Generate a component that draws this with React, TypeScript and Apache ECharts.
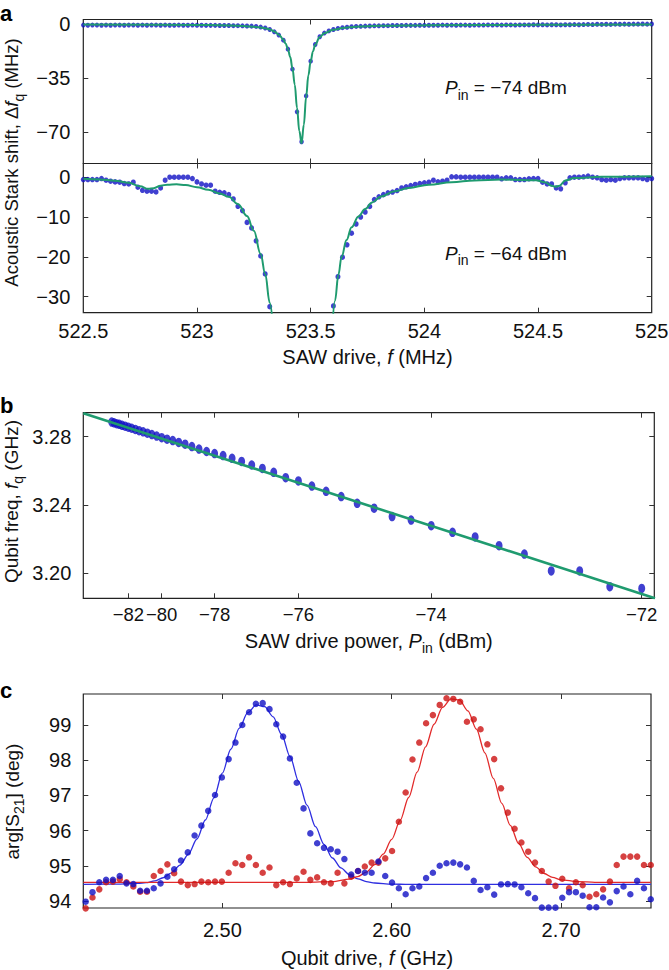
import React, { useEffect, useRef } from 'react';
import * as echarts from 'echarts';

const FONT = '"Liberation Sans", Arial, Helvetica, sans-serif';
const INK = '#111';

// ---------------- Panel a ----------------
const aFreqStart = 522.5;
const aFreqStep = 0.02;
const aXTicks = [522.5, 523, 523.5, 524, 524.5, 525];
const aTopYTicks = [0, -35, -70];
const aBottomYTicks = [0, -10, -20, -30];

// P_in = -74 dBm, Acoustic Stark shift (MHz), one value per sweep point
const aTopShift = [
  -0.4, -0.5, -0.4, -0.4, -0.5, -0.4, -0.5, -0.4, -0.4, -0.5,
  -0.4, -0.4, -0.5, -0.4, -0.5, -0.4, -0.4, -0.5, -0.4, -0.5,
  -0.5, -0.4, -0.5, -0.5, -0.4, -0.5, -0.5, -0.6, -0.6, -0.6,
  -0.7, -0.7, -0.7, -0.8, -0.8, -0.9, -1.0, -1.1, -1.3, -1.7,
  -2.3, -3.3, -4.8, -6.9, -10.2, -16.0, -29.0, -56.6, -76.0, -46.3,
  -23.8, -13.0, -8.0, -5.6, -4.2, -3.3, -2.6, -2.1, -1.8, -1.5,
  -1.3, -1.2, -1.1, -1.0, -0.9, -0.9, -0.8, -0.8, -0.7, -0.7,
  -0.7, -0.6, -0.6, -0.6, -0.5, -0.6, -0.5, -0.5, -0.5, -0.4,
  -0.5, -0.4, -0.5, -0.4, -0.4, -0.5, -0.4, -0.4, -0.4, -0.3,
  -0.4, -0.3, -0.4, -0.3, -0.3, -0.4, -0.3, -0.3, -0.3, -0.2,
  -0.3, -0.2, -0.3, -0.2, -0.2, -0.3, -0.2, -0.2, -0.1, -0.2,
  -0.1, 0.0, -0.1, 0.1, 0.0, 0.1, 0.0, 0.2, 0.1, 0.2,
  0.1, 0.2, 0.2, 0.3, 0.2, 0.3,
];

// P_in = -64 dBm (null: below the visible range)
const aBottomShift = [
  -0.68, -0.68, -0.68, -0.68, -0.43, -0.85, -1.1, -1.26, -1.35, -1.68,
  -1.77, -1.35, -2.6, -3.36, -3.6, -3.6, -3.77, -2.77, -0.85, -0.09,
  -0.09, -0.09, -0.09, -0.09, -0.43, -1.26, -1.77, -2.1, -2.1, -3.6,
  -3.86, -4.0, -4.45, -5.53, -7.37, -8.45, -11.4, -12.8, -16.0, -19.8,
  -24.3, -32.5, null, null, null, null, null, null, null, null,
  null, null, null, null, null, -32.3, -25.0, -20.1, -17.0, -14.1,
  -11.8, -10.05, -8.8, -7.4, -5.7, -5.0, -4.45, -4.0, -3.8, -3.44,
  -2.77, -2.5, -2.2, -1.9, -1.7, -1.5, -1.35, -0.85, -1.26, -1.1,
  -0.85, 0, 0, -0.08, -0.08, -0.08, -0.08, -0.08, -0.08, -0.08,
  -0.08, -0.08, -0.5, -0.25, -0.25, -0.68, -0.68, -0.68, -0.5, -0.43,
  -0.43, -1.35, -1.77, -1.77, -2.77, -3.0, -1.5, -0.25, -0.08, -0.08,
  0, 0.2, -0.08, -0.25, -0.68, -0.85, -0.68, -0.85, -0.43, -0.25,
  -0.25, -0.25, -0.25, -0.43, -0.68, -0.43,
];

// fit curves
const aTopFitFreq = [522.5, 523.0, 523.1, 523.2, 523.26, 523.3, 523.32, 523.34, 523.36, 523.38, 523.39, 523.4, 523.41, 523.42, 523.43, 523.44, 523.45, 523.46, 523.47, 523.48, 523.49, 523.5, 523.51, 523.52, 523.54, 523.56, 523.6, 523.65, 523.7, 523.8, 524.0, 524.5, 525.0];
const aTopFitShift = [-0.1, -0.3, -0.5, -1.0, -1.6, -2.4, -3.2, -4.5, -6.6, -9.8, -12.4, -16, -21, -28.5, -39, -54, -69, -77, -65, -47, -33, -24, -17.5, -13.2, -8.2, -5.7, -3.4, -2.1, -1.5, -0.9, -0.5, -0.25, -0.1];

const aBotFitLeftFreq = [522.5, 522.57, 522.64, 522.7, 522.75, 522.785, 522.81, 522.84, 522.87, 522.91, 522.95, 523.0, 523.05, 523.1, 523.14, 523.18, 523.22, 523.25, 523.28, 523.3, 523.32, 523.335];
const aBotFitLeftShift = [-0.5, -0.65, -0.95, -1.5, -2.35, -3.0, -2.85, -2.2, -1.95, -1.85, -2.05, -2.6, -3.25, -4.15, -5.0, -6.8, -9.8, -13.5, -19.3, -24.3, -31.5, -38];
const aBotFitRightFreq = [523.595, 523.607, 523.622, 523.636, 523.658, 523.68, 523.71, 523.74, 523.77, 523.81, 523.87, 523.93, 524.02, 524.12, 524.22, 524.34, 524.49, 524.53, 524.56, 524.575, 524.595, 524.62, 524.66, 524.78, 525.0];
const aBotFitRightShift = [-38, -31, -24.5, -20, -15.8, -12.6, -9.9, -8.05, -6.4, -4.9, -3.6, -2.8, -1.95, -1.35, -0.9, -0.68, -0.85, -1.35, -2.2, -2.5, -2.2, -0.9, -0.3, 0.0, 0.15];

// ---------------- Panel b ----------------
const bPowerDbm = [
  -83.5, -83.25, -83.0, -82.75, -82.5, -82.25, -82.0, -81.75, -81.5, -81.25,
  -81.0, -80.75, -80.5, -80.25, -80.0, -79.75, -79.5, -79.25, -79.0, -78.75,
  -78.5, -78.25, -78.0, -77.75, -77.5, -77.25, -77.0, -76.75, -76.5, -76.25,
  -76.0, -75.75, -75.5, -75.25, -75.0, -74.75, -74.5, -74.25, -74.0, -73.75,
  -73.5, -73.25, -73.0, -72.75, -72.5, -72.25, -72.0,
];
const bQubitGHz = [
  3.2885, 3.2881, 3.2876, 3.2872, 3.2866, 3.2861, 3.2855, 3.2849, 3.2842, 3.2835,
  3.2828, 3.2820, 3.2812, 3.2803, 3.2794, 3.2785, 3.2777, 3.2766, 3.2756, 3.2742,
  3.2727, 3.2713, 3.2701, 3.2689, 3.2673, 3.2655, 3.2634, 3.2614, 3.2591, 3.2560,
  3.2541, 3.2511, 3.2480, 3.2449, 3.2410, 3.2381, 3.2332, 3.2312, 3.2279, 3.2240,
  3.2213, 3.2162, 3.2113, 3.2014, 3.2014, 3.1922, 3.1912,
];
const bFitDbm = [-88.77, -71.9];
const bFitGHz = [3.2937, 3.1854];
const bXTicksDbm = [-82, -80, -78, -76, -74, -72];
const bYTicks = [3.2, 3.24, 3.28];

// ---------------- Panel c ----------------
const cFreqStart = 2.4193;
const cFreqStep = 0.00402;
const cXTicks = [2.5, 2.6, 2.7];
const cYTicks = [94, 95, 96, 97, 98, 99];
const cBlueDeg = [
  93.98, 94.25, 94.53, 94.6, 94.6, 94.71, 94.5, 94.48, 94.29, 94.29,
  94.36, 94.5, 94.69, 94.9, 95.15, 95.38, 95.86, 96.14, 96.56, 97.01,
  97.51, 98.03, 98.5, 99.0, 99.36, 99.6, 99.62, 99.45, 99.02, 98.67,
  98.05, 97.36, 96.63, 95.92, 95.64, 95.51, 95.47, 95.4, 95.19, 94.75,
  94.85, 94.8, 94.8, 95.12, 94.71, 94.52, 94.36, 94.19, 94.36, 94.41,
  94.65, 94.8, 95.0, 95.07, 95.09, 95.04, 94.95, 94.57, 94.31, 94.39,
  94.18, 94.47, 94.48, 94.47, 94.39, 94.22, 94.08, 93.81, 93.81, 93.81,
  94.09, 94.25, 94.25, 94.15, 93.82, 93.82, 94.1, 93.96, 94.28, 94.41,
  94.19, 94.57, 94.36, 94.05,
];
const cRedDeg = [
  93.79, 94.1, 94.33, 94.53, 94.55, 94.62, 94.53, 94.41, 94.26, 94.26,
  94.71, 94.85, 95.04, 94.79, 94.55, 94.45, 94.48, 94.55, 94.53, 94.55,
  94.55, 94.8, 95.07, 95.02, 95.24, 95.02, 94.8, 94.95, 94.45, 94.53,
  94.48, 94.64, 94.83, 94.6, 94.67, 94.53, 94.5, 94.8, 94.5, 94.69,
  94.85, 94.98, 95.09, 95.09, 95.21, 95.42, 96.25, 97.08, 98.02, 98.5,
  99.05, 99.28, 99.57, 99.76, 99.74, 99.66, 99.09, 99.16, 98.88, 98.45,
  98.03, 97.2, 96.51, 96.05, 95.66, 95.4, 95.09, 94.85, 94.55, 94.43,
  94.63, 94.36, 94.53, 94.45, 94.12, 94.19, 94.33, 94.55, 95.02, 95.26,
  95.26, 95.26, 95.02, 95.02,
];
const cBlueFitFreq = [2.418, 2.44, 2.45, 2.455, 2.46, 2.465, 2.47, 2.475, 2.48, 2.485, 2.49, 2.495, 2.5, 2.505, 2.51, 2.515, 2.52, 2.525, 2.53, 2.535, 2.54, 2.545, 2.55, 2.555, 2.56, 2.565, 2.57, 2.575, 2.58, 2.585, 2.59, 2.6, 2.61, 2.753];
const cBlueFitDeg = [94.47, 94.48, 94.5, 94.52, 94.57, 94.66, 94.8, 95.02, 95.33, 95.76, 96.3, 96.93, 97.63, 98.31, 98.91, 99.35, 99.57, 99.52, 99.23, 98.73, 98.1, 97.4, 96.72, 96.11, 95.61, 95.22, 94.94, 94.75, 94.63, 94.55, 94.51, 94.48, 94.47, 94.47];
const cRedFitFreq = [2.418, 2.55, 2.565, 2.575, 2.58, 2.585, 2.59, 2.595, 2.6, 2.605, 2.61, 2.615, 2.62, 2.625, 2.63, 2.635, 2.64, 2.645, 2.65, 2.655, 2.66, 2.665, 2.67, 2.675, 2.68, 2.685, 2.69, 2.695, 2.7, 2.71, 2.72, 2.753];
const cRedFitDeg = [94.53, 94.53, 94.55, 94.62, 94.69, 94.82, 95.03, 95.33, 95.75, 96.29, 96.94, 97.66, 98.38, 99.02, 99.5, 99.74, 99.71, 99.4, 98.88, 98.21, 97.48, 96.77, 96.15, 95.63, 95.24, 94.97, 94.78, 94.67, 94.6, 94.55, 94.53, 94.53];

// ---------------- helpers ----------------
const toPw = (dbm: number) => Math.pow(10, dbm / 10 + 9);
const minus = (v: number) => (v < 0 ? '\u2212' + String(Math.abs(v)) : String(v));
const zip = (xs: number[], ys: (number | null)[]) =>
  xs.map((x, i) => [x, ys[i]]).filter((p) => p[1] !== null && p[1] !== undefined);
const sweep = (start: number, step: number, ys: (number | null)[]) =>
  ys.map((y, i) => [start + i * step, y]).filter((p) => p[1] !== null);

const tickStyle = { show: true, inside: true, length: 5, lineStyle: { color: '#333', width: 1 } };

function xPair(g: number, min: number, max: number, ticks: number[], labels: boolean, fmt: any, margin: number, fs = 20) {
  return [
    {
      type: 'value', gridIndex: g, position: 'bottom', min, max, scale: true,
      axisLine: { show: false, onZero: false }, splitLine: { show: false },
      axisTick: { ...tickStyle, customValues: ticks },
      axisLabel: {
        show: labels, customValues: ticks, formatter: fmt, margin, hideOverlap: false,
        showMinLabel: true, showMaxLabel: true,
        fontSize: fs, fontFamily: FONT, color: INK,
      },
    },
    {
      type: 'value', gridIndex: g, position: 'top', min, max, scale: true,
      axisLine: { show: false, onZero: false }, splitLine: { show: false },
      axisTick: { ...tickStyle, customValues: ticks },
      axisLabel: { show: false },
    },
  ];
}
function yPair(g: number, min: number, max: number, ticks: number[], fmt: any, margin: number) {
  return [
    {
      type: 'value', gridIndex: g, position: 'left', min, max, scale: true,
      axisLine: { show: false, onZero: false }, splitLine: { show: false },
      axisTick: { ...tickStyle, customValues: ticks },
      axisLabel: {
        show: true, customValues: ticks, formatter: fmt, margin, hideOverlap: false,
        showMinLabel: true, showMaxLabel: true,
        fontSize: 20, fontFamily: FONT, color: INK,
      },
    },
    {
      type: 'value', gridIndex: g, position: 'right', min, max, scale: true,
      axisLine: { show: false, onZero: false }, splitLine: { show: false },
      axisTick: { ...tickStyle, customValues: ticks },
      axisLabel: { show: false },
    },
  ];
}

const makeRich = (fs: number) => ({
  n: { fontSize: fs, fontFamily: FONT, fill: INK, lineHeight: 28, verticalAlign: 'middle' },
  i: { fontSize: fs, fontFamily: FONT, fontStyle: 'italic', fill: INK, lineHeight: 28, verticalAlign: 'middle' },
  s: { fontSize: 14, fontFamily: FONT, fill: INK, lineHeight: 15, verticalAlign: 'bottom' },
});
const richText = (x: number, y: number, text: string, align: string, fs: number, rotation = 0) => ({
  type: 'text', x, y, rotation, z: 100,
  style: {
    text, rich: makeRich(fs), align, verticalAlign: 'middle', textAlign: align, textVerticalAlign: 'middle',
    fill: INK, fontSize: fs, fontFamily: FONT,
  },
});
const letter = (x: number, y: number, t: string) => ({
  type: 'text', x, y, z: 100,
  style: {
    text: t, fontSize: 22, fontWeight: 'bold', fontFamily: FONT, fill: '#000',
    align: 'left', verticalAlign: 'middle', textAlign: 'left', textVerticalAlign: 'middle',
  },
});

const GREEN = '#1f9b6f';
const BLUE_DOT = '#1010c4';
const RED_DOT = '#cc1212';

export default function App() {
  const ref = useRef<HTMLDivElement>(null);
  useEffect(() => {
    if (!ref.current) return;
    const chart = echarts.init(ref.current, null, { renderer: 'svg' });
    const gridBase = { show: true, borderColor: '#222', borderWidth: 1.2, backgroundColor: 'transparent', outerBoundsMode: 'none', containLabel: false };
    const option: any = {
      animation: false,
      backgroundColor: '#fff',
      grid: [
        { ...gridBase, left: 83.3, top: 19.5, width: 568.4, height: 144 },
        { ...gridBase, left: 83.3, top: 163.5, width: 568.4, height: 149.2 },
        { ...gridBase, left: 83.3, top: 412.7, width: 571, height: 185.6 },
        { ...gridBase, left: 83.3, top: 694, width: 567.7, height: 214 },
      ],
      xAxis: [
        ...xPair(0, 522.5, 525, aXTicks.slice(1, 5), false, minus, 8),
        ...xPair(1, 522.5, 525, aXTicks, true, (v: number) => String(v), 8),
        ...xPair(2, toPw(-88.77), toPw(-71.905), bXTicksDbm.map(toPw), true,
          (v: number) => minus(Math.round(10 * Math.log10(v) - 90)), 7, 18.5),
        ...xPair(3, 2.4179, 2.7531, cXTicks, true, (v: number) => v.toFixed(2), 12),
      ],
      yAxis: [
        ...yPair(0, -90.1, 3.2, aTopYTicks, minus, 13),
        ...yPair(1, -34.0, 3.34, aBottomYTicks, minus, 13),
        ...yPair(2, 3.1854, 3.294, bYTicks, (v: number) => v.toFixed(2), 12),
        ...yPair(3, 93.8, 99.88, cYTicks, (v: number) => String(v), 12),
      ],
      series: [
        // panel a top
        { type: 'scatter', xAxisIndex: 0, yAxisIndex: 0, data: sweep(aFreqStart, aFreqStep, aTopShift),
          symbolSize: [4.5, 5], itemStyle: { color: BLUE_DOT }, z: 2 },
        { type: 'line', xAxisIndex: 0, yAxisIndex: 0, data: zip(aTopFitFreq, aTopFitShift), symbol: 'none',
          smooth: 0.4, smoothMonotone: 'x', lineStyle: { color: GREEN, width: 2 }, z: 3 },
        // panel a bottom
        { type: 'scatter', xAxisIndex: 2, yAxisIndex: 2, data: sweep(aFreqStart, aFreqStep, aBottomShift),
          symbolSize: [5, 5.5], itemStyle: { color: BLUE_DOT }, z: 2 },
        { type: 'line', xAxisIndex: 2, yAxisIndex: 2, data: zip(aBotFitLeftFreq, aBotFitLeftShift), symbol: 'none',
          smooth: 0.4, smoothMonotone: 'x', lineStyle: { color: GREEN, width: 2 }, z: 3 },
        { type: 'line', xAxisIndex: 2, yAxisIndex: 2, data: zip(aBotFitRightFreq, aBotFitRightShift), symbol: 'none',
          smooth: 0.4, smoothMonotone: 'x', lineStyle: { color: GREEN, width: 2 }, z: 3 },
        // panel b
        { type: 'scatter', xAxisIndex: 4, yAxisIndex: 4, data: zip(bPowerDbm.map(toPw), bQubitGHz),
          symbolSize: [7, 9.5], itemStyle: { color: BLUE_DOT }, z: 2 },
        { type: 'line', xAxisIndex: 4, yAxisIndex: 4, data: zip(bFitDbm.map(toPw), bFitGHz), symbol: 'none',
          lineStyle: { color: GREEN, width: 2.6 }, z: 3 },
        // panel c
        { type: 'line', xAxisIndex: 6, yAxisIndex: 6, data: zip(cBlueFitFreq, cBlueFitDeg), symbol: 'none',
          smooth: 0.3, smoothMonotone: 'x', lineStyle: { color: '#2f2fe0', width: 1.3 }, z: 2 },
        { type: 'line', xAxisIndex: 6, yAxisIndex: 6, data: zip(cRedFitFreq, cRedFitDeg), symbol: 'none',
          smooth: 0.3, smoothMonotone: 'x', lineStyle: { color: '#e22a2a', width: 1.3 }, z: 2 },
        { type: 'scatter', xAxisIndex: 6, yAxisIndex: 6, data: sweep(cFreqStart, cFreqStep, cRedDeg),
          symbolSize: 6.5, itemStyle: { color: RED_DOT }, z: 3, clip: false },
        { type: 'scatter', xAxisIndex: 6, yAxisIndex: 6, data: sweep(cFreqStart, cFreqStep, cBlueDeg),
          symbolSize: 6.5, itemStyle: { color: BLUE_DOT }, z: 4, clip: false },
      ],
      graphic: [
        letter(0, 13, 'a'),
        letter(0, 405.4, 'b'),
        letter(0, 690.4, 'c'),
        richText(445, 87.7, '{i|P}{s|in}{n| = \u221274 dBm}', 'left', 19),
        richText(445, 253.4, '{i|P}{s|in}{n| = \u221264 dBm}', 'left', 19),
        richText(367.5, 357, '{n|SAW drive, }{i|f}{n| (MHz)}', 'center', 20),
        richText(368.8, 641, '{n|SAW drive power, }{i|P}{s|in}{n| (dBm)}', 'center', 20),
        richText(367, 958, '{n|Qubit drive, }{i|f}{n| (GHz)}', 'center', 20),
        richText(11.7, 162.5, '{n|Acoustic Stark shift, \u0394}{i|f}{s|q}{n| (MHz)}', 'center', 18.5, Math.PI / 2),
        richText(11, 501.5, '{n|Qubit freq, }{i|f}{s|q}{n| (GHz)}', 'center', 19, Math.PI / 2),
        richText(12, 801.5, '{n|arg[S}{s|21}{n|] (deg)}', 'center', 19, Math.PI / 2),
      ],
    };
    chart.setOption(option);
    return () => chart.dispose();
  }, []);
  return (
    <div
      ref={ref}
      style={{ position: 'absolute', left: 0, top: 0, width: 669, height: 970, background: '#fff' }}
    />
  );
}
